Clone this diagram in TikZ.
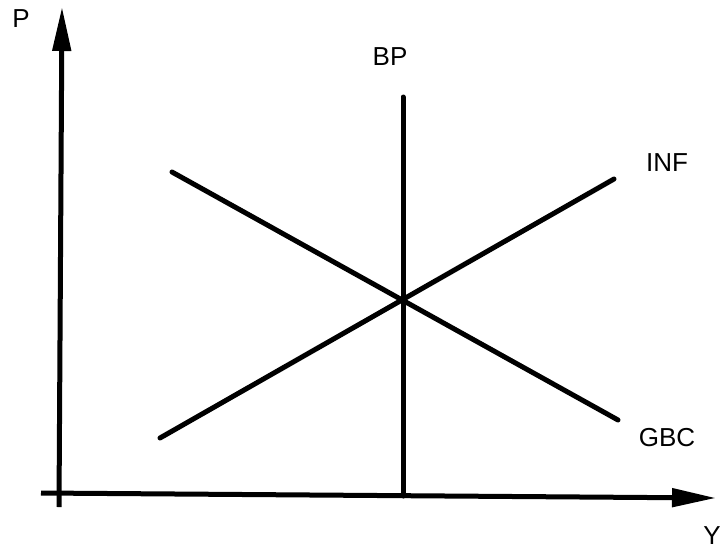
\documentclass[tikz,border=0pt]{standalone}
\usepackage{fontspec}
\setmainfont{Liberation Sans}
\usetikzlibrary{arrows.meta}
\begin{document}
\begin{tikzpicture}[x=1pt,y=-1pt,
  curve/.style={line width=5pt,line cap=round},
  axis/.style={line width=5pt,-{Triangle[length=44pt,width=18pt]}},
  lbl/.style={font=\fontsize{26}{26}\selectfont,inner sep=0pt}]
\useasboundingbox (0,0) rectangle (725,552);
% axes
\coordinate (yb) at (59,507);
\coordinate (yt) at (62,7);
\coordinate (xl) at (41,493);
\coordinate (xr) at (716,498);
\draw[axis] (yb) -- (yt);
\draw[axis] (xl) -- (xr);
% curves
\coordinate (bpTop) at (403,97);
\coordinate (bpBot) at (403,496);
\coordinate (gbcA) at (172,172);
\coordinate (gbcB) at (618,420);
\coordinate (infA) at (160,438);
\coordinate (infB) at (614,179);
\draw[curve] (bpTop) -- (bpBot);
\draw[curve] (gbcA) -- (gbcB);
\draw[curve] (infA) -- (infB);
% labels
\node[lbl] (P) at (21,19) {P};
\node[lbl] (BP) at (390,57) {BP};
\node[lbl] (INF) at (667,163) {INF};
\node[lbl] (GBC) at (667,438) {GBC};
\node[lbl] (Y) at (712,536) {Y};
\end{tikzpicture}
\end{document}
